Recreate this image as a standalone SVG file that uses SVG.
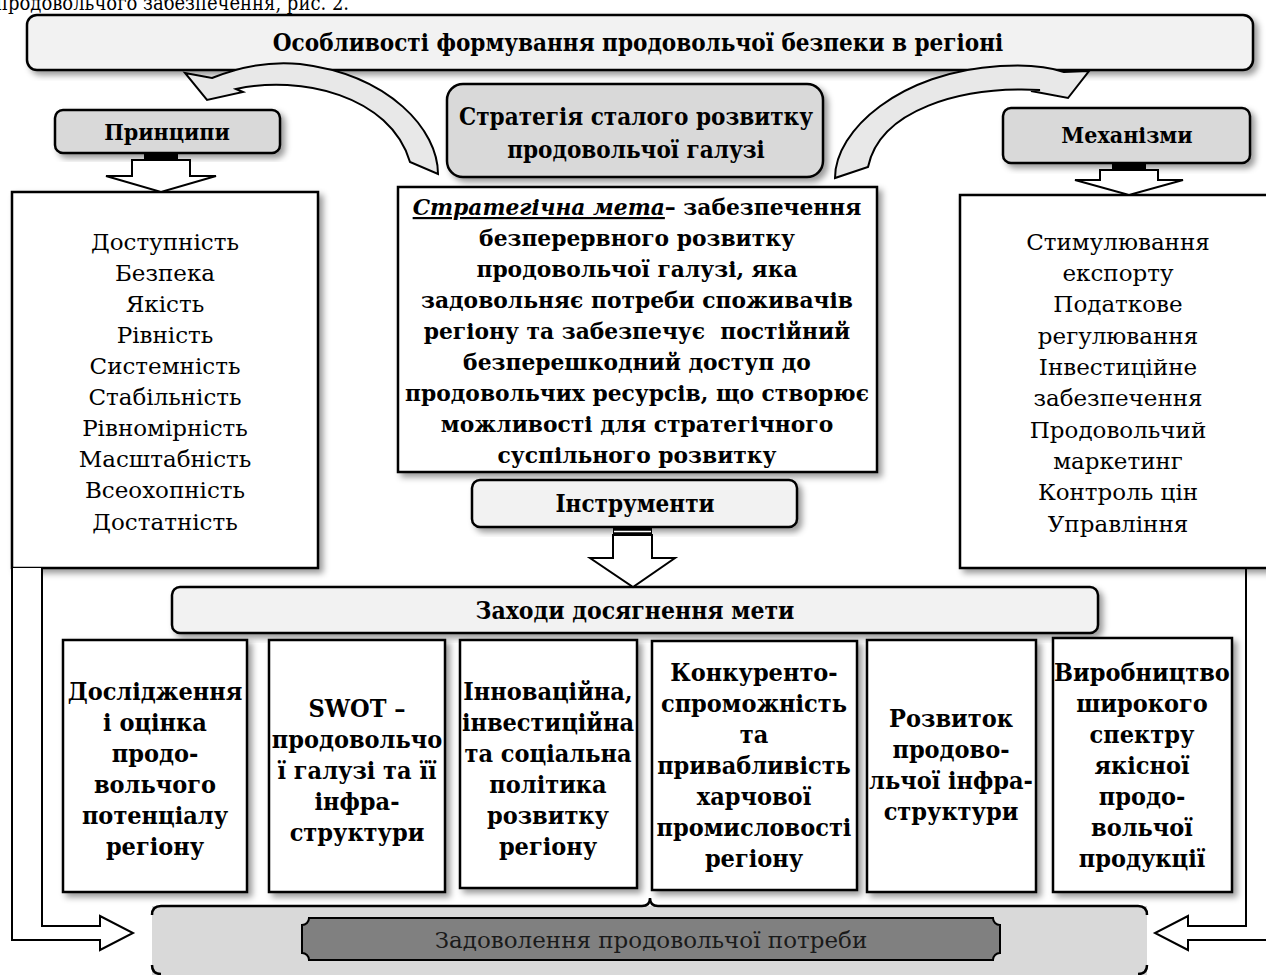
<svg xmlns="http://www.w3.org/2000/svg" width="1266" height="975" viewBox="0 0 1266 975">
<defs>
<filter id="sh" x="-10%" y="-10%" width="130%" height="130%">
<feDropShadow dx="4" dy="4" stdDeviation="3" flood-color="#000" flood-opacity="0.4"/>
</filter>
<style>
.box{stroke:#000;stroke-width:2.5;filter:url(#sh)}
.w{fill:#fff}
.lg{fill:#f2f2f2}
.mg{fill:#d9d9d9}
.h{font-family:"DejaVu Serif Condensed","DejaVu Serif",serif;font-stretch:condensed;font-weight:bold;font-size:24px;text-anchor:middle;fill:#000}
.b{font-size:25px}
.g{font-family:"DejaVu Serif",serif;font-weight:bold;font-size:21.8px;text-anchor:middle;fill:#000}
.r{font-family:"DejaVu Serif",serif;font-size:23px;text-anchor:middle;fill:#000}
.arr{fill:#fff;stroke:#000;stroke-width:2}
.carr{fill:#e8e8e8;stroke:#000;stroke-width:2}
</style>
</defs>
<rect width="1266" height="975" fill="#fff"/>
<text x="-4" y="10" font-family="DejaVu Serif Condensed, DejaVu Serif, serif" font-stretch="condensed" font-size="20" fill="#000">продовольчого забезпечення, рис. 2.</text>

<g id="banner">
<rect class="box lg" x="27" y="15" width="1226" height="55" rx="10"/>
<text class="h" x="638" y="51">Особливості формування продовольчої безпеки в регіоні</text>
</g>

<g id="strategy">
<rect class="box mg" x="447" y="84" width="376" height="93" rx="16"/>
<text class="h" x="636" y="125">Стратегія сталого розвитку</text>
<text class="h" x="636" y="158">продовольчої галузі</text>
</g>

<g id="principles-head">
<rect class="box mg" x="55" y="110" width="225" height="43" rx="8"/>
<text class="h" x="167" y="140" style="font-size:23px">Принципи</text>
</g>

<g id="mechanisms-head">
<rect class="box mg" x="1003" y="108" width="247" height="55" rx="8"/>
<text class="h" x="1127" y="143" style="font-size:23px">Механізми</text>
</g>

<g id="principles">
<rect class="box w" x="12" y="192" width="306" height="376"/>
<text class="r" x="165" y="250">Доступність</text>
<text class="r" x="165" y="281">Безпека</text>
<text class="r" x="165" y="312">Якість</text>
<text class="r" x="165" y="343">Рівність</text>
<text class="r" x="165" y="374">Системність</text>
<text class="r" x="165" y="405">Стабільність</text>
<text class="r" x="165" y="436">Рівномірність</text>
<text class="r" x="165" y="467">Масштабність</text>
<text class="r" x="165" y="498">Всеохопність</text>
<text class="r" x="165" y="530">Достатність</text>
</g>

<g id="mechanisms">
<rect class="box w" x="960" y="195" width="320" height="373"/>
<text class="r" x="1118" y="250">Стимулювання</text>
<text class="r" x="1118" y="281">експорту</text>
<text class="r" x="1118" y="312">Податкове</text>
<text class="r" x="1118" y="344">регулювання</text>
<text class="r" x="1118" y="375">Інвестиційне</text>
<text class="r" x="1118" y="406">забезпечення</text>
<text class="r" x="1118" y="438">Продовольчий</text>
<text class="r" x="1118" y="469">маркетинг</text>
<text class="r" x="1118" y="500">Контроль цін</text>
<text class="r" x="1118" y="532">Управління</text>
</g>

<g id="goal">
<rect class="box w" x="398" y="187" width="479" height="285"/>
<text class="g" x="637" y="215"><tspan font-style="italic" text-decoration="underline">Стратегічна мета</tspan>– забезпечення</text>
<text class="g" x="637" y="246">безперервного розвитку</text>
<text class="g" x="637" y="277">продовольчої галузі, яка</text>
<text class="g" x="637" y="308">задовольняє потреби споживачів</text>
<text class="g" x="637" y="339" xml:space="preserve">регіону та забезпечує  постійний</text>
<text class="g" x="637" y="370">безперешкодний доступ до</text>
<text class="g" x="637" y="401">продовольчих ресурсів, що створює</text>
<text class="g" x="637" y="432">можливості для стратегічного</text>
<text class="g" x="637" y="463">суспільного розвитку</text>
</g>

<g id="instruments">
<rect class="box lg" x="472" y="480" width="325" height="47" rx="8"/>
<text class="h" x="635" y="512">Інструменти</text>
</g>

<g id="measures">
<rect class="box lg" x="172" y="587" width="926" height="46" rx="8"/>
<text class="h" x="635" y="619" style="font-size:24.5px">Заходи досягнення мети</text>
</g>

<g id="m1">
<rect class="box w" x="63" y="640" width="184" height="252"/>
<text class="h b" x="155" y="700">Дослідження</text>
<text class="h b" x="155" y="731">і оцінка</text>
<text class="h b" x="155" y="762">продо-</text>
<text class="h b" x="155" y="793">вольчого</text>
<text class="h b" x="155" y="824">потенціалу</text>
<text class="h b" x="155" y="855">регіону</text>
</g>

<g id="m2">
<rect class="box w" x="269" y="640" width="176" height="252"/>
<text class="h b" x="357" y="717">SWOT –</text>
<text class="h b" x="357" y="748">продовольчо</text>
<text class="h b" x="357" y="779">ї галузі та її</text>
<text class="h b" x="357" y="810">інфра-</text>
<text class="h b" x="357" y="841">структури</text>
</g>

<g id="m3">
<rect class="box w" x="460" y="640" width="177" height="248"/>
<text class="h b" x="548" y="700">Інноваційна,</text>
<text class="h b" x="548" y="731">інвестиційна</text>
<text class="h b" x="548" y="762">та соціальна</text>
<text class="h b" x="548" y="793">політика</text>
<text class="h b" x="548" y="824">розвитку</text>
<text class="h b" x="548" y="855">регіону</text>
</g>

<g id="m4">
<rect class="box w" x="652" y="641" width="205" height="249"/>
<text class="h b" x="754" y="681">Конкуренто-</text>
<text class="h b" x="754" y="712">спроможність</text>
<text class="h b" x="754" y="743">та</text>
<text class="h b" x="754" y="774">привабливість</text>
<text class="h b" x="754" y="805">харчової</text>
<text class="h b" x="754" y="836">промисловості</text>
<text class="h b" x="754" y="867">регіону</text>
</g>

<g id="m5">
<rect class="box w" x="867" y="640" width="169" height="252"/>
<text class="h b" x="951" y="727">Розвиток</text>
<text class="h b" x="951" y="758">продово-</text>
<text class="h b" x="951" y="789">льчої інфра-</text>
<text class="h b" x="951" y="820">структури</text>
</g>

<g id="m6">
<rect class="box w" x="1053" y="638" width="179" height="254"/>
<text class="h b" x="1142" y="681">Виробництво</text>
<text class="h b" x="1142" y="712">широкого</text>
<text class="h b" x="1142" y="743">спектру</text>
<text class="h b" x="1142" y="774">якісної</text>
<text class="h b" x="1142" y="805">продо-</text>
<text class="h b" x="1142" y="836">вольчої</text>
<text class="h b" x="1142" y="867">продукції</text>
</g>

<g id="result">
<rect x="152" y="906" width="995" height="75" fill="#d9d9d9"/>
<path d="M152,915 Q152,906 161,906 L642,906 Q650,906 650,898 Q650,906 658,906 L1138,906 Q1147,906 1147,915" fill="none" stroke="#000" stroke-width="2.5"/>
<path d="M152,965 Q152,974 161,974 M1147,965 Q1147,974 1138,974" fill="none" stroke="#000" stroke-width="2.5"/>
<path d="M309,918 L993,918 A7,7 0 0 0 1000,925 L1000,953 A7,7 0 0 0 993,960 L309,960 A7,7 0 0 0 302,953 L302,925 A7,7 0 0 0 309,918 Z" fill="#808080" stroke="#000" stroke-width="2"/>
<text x="651" y="948" font-family="DejaVu Serif, serif" font-size="23" text-anchor="middle" fill="#1a1a1a">Задоволення продовольчої потреби</text>
</g>

<g id="connectors">
<path class="carr" d="M438,174 C438,130 390,75 300,64 C262,60 232,70 212,78 L185,73 L207,100 L243,92 L236,89 C300,75 390,95 410,162 Z"/>
<path class="carr" d="M835,178 C835,130 900,72 1000,66 C1030,64 1050,67 1064,72 L1089,71 L1068,98 L1031,91 L1040,90 C960,86 880,110 868,167 Z"/>
<rect x="144" y="154" width="34" height="6" fill="#000"/>
<path class="arr" d="M132,160 L190,160 L190,176 L216,176 L161,192 L106,176 L132,176 Z"/>
<rect x="1112" y="164" width="34" height="6" fill="#000"/>
<path class="arr" d="M1100,170 L1158,170 L1158,180 L1183,180 L1129,195 L1075,180 L1100,180 Z"/>
<rect x="613" y="528" width="39" height="7" fill="#000"/>
<line x1="614" y1="531.5" x2="651" y2="531.5" stroke="#fff" stroke-width="1.5"/>
<path class="arr" d="M613,535 L652,535 L652,558 L675,558 L633,587 L590,558 L613,558 Z"/>
<path class="arr" d="M12,568 L12,940 L100,940 L100,950 L133,933 L100,916 L100,926 L42,926 L42,568"/>
<path class="arr" d="M1246,568 L1246,926 L1188,926 L1188,916 L1155,933 L1188,950 L1188,940 L1280,940"/>
</g>
</svg>
